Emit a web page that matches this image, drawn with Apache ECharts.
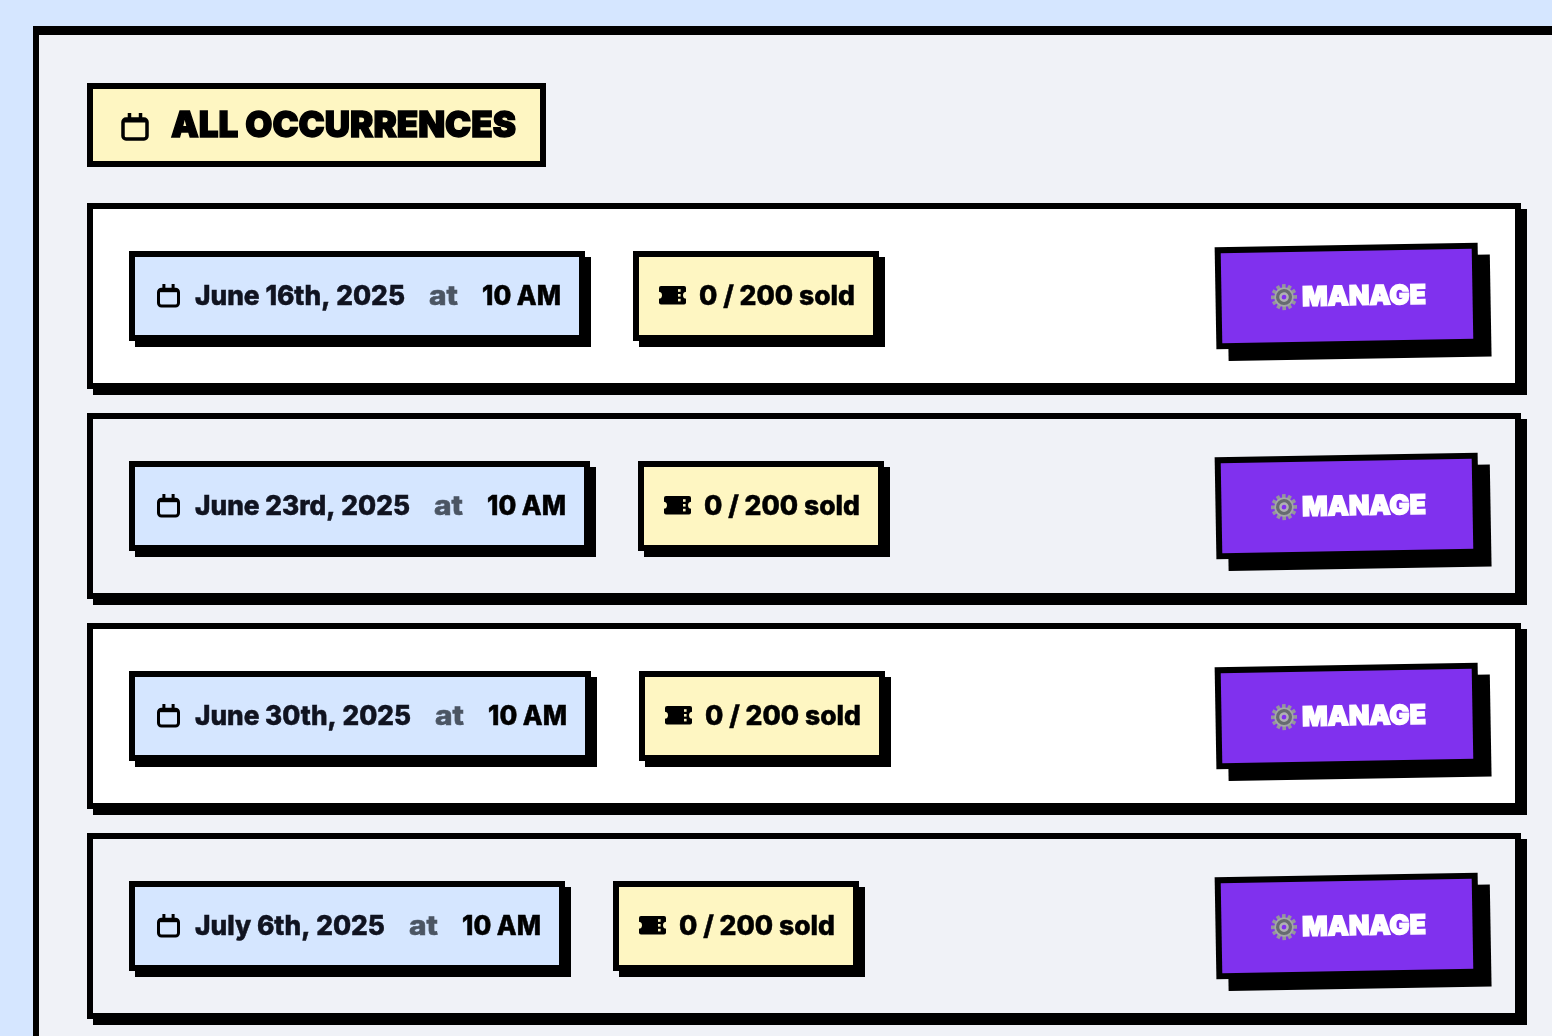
<!DOCTYPE html>
<html><head><meta charset="utf-8"><style>html,body{margin:0;padding:0;background:#d5e6ff;overflow:hidden}#c{width:1552px;height:1036px}</style>
<script src="https://cdn.jsdelivr.net/npm/echarts@6/dist/echarts.min.js"></script></head>
<body><div id="c"></div>
<script>
// content
const titleText = 'ALL OCCURRENCES';
const occurrenceDates = ['June 16th, 2025','June 23rd, 2025','June 30th, 2025','July 6th, 2025'];
const occurrenceTimes = ['10 AM','10 AM','10 AM','10 AM'];
const soldCounts = [0,0,0,0];
const capacities = [200,200,200,200];
const buttonLabel = 'MANAGE';
const joinWord = 'at';
// measured text widths from the reference
const dateWidths = [210,215,216,190];
const C = {bg:'#d5e6ff',panel:'#f0f2f7',white:'#ffffff',yellow:'#fef6c2',blue:'#d5e6ff',purple:'#8031ee',black:'#000000',ink:'#101320',grey:'#4b5563'};
const FF = 'Inter, "Noto Sans", sans-serif';
const cv = document.createElement('canvas').getContext('2d');
const els = [];
function rect(x,y,w,h,fill,extra){return Object.assign({type:'rect',shape:{x,y,width:w,height:h},style:{fill},silent:true},extra||{});}
function box(arr,x,y,w,h,bw,fill,sh){
  if(sh) arr.push(rect(x+sh,y+sh,w,h,C.black));
  arr.push(rect(x,y,w,h,C.black));
  arr.push(rect(x+bw,y+bw,w-2*bw,h-2*bw,fill));
}
function txt(arr,s,x,cy,font,fill,width,bold){
  cv.font = font;
  const sx = width ? width/cv.measureText(s).width : 1;
  arr.push({type:'text',x,y:cy,scaleX:sx,silent:true,style:{text:s,x:0,y:0,font,fill,stroke:fill,lineWidth:bold||0,textAlign:'left',textVerticalAlign:'middle'}});
}
function calendar(arr,x,y,w,h,lw){
  const top=y+h*0.2;
  arr.push({type:'rect',shape:{x:x,y:top,width:w,height:y+h-top,r:3},style:{fill:'none',stroke:C.black,lineWidth:lw},silent:true});
  arr.push({type:'line',shape:{x1:x,y1:top+lw*0.5,x2:x+w,y2:top+lw*0.5},style:{stroke:C.black,lineWidth:lw},silent:true});
  arr.push({type:'line',shape:{x1:x+w*0.27,y1:y-1,x2:x+w*0.27,y2:top},style:{stroke:C.black,lineWidth:lw},silent:true});
  arr.push({type:'line',shape:{x1:x+w*0.73,y1:y-1,x2:x+w*0.73,y2:top},style:{stroke:C.black,lineWidth:lw},silent:true});
}
function ticket(arr,x,cy){
  const y=cy-9;
  arr.push({type:'rect',silent:true,shape:{x,y,width:27,height:18.5,r:2},style:{fill:C.black}});
  arr.push({type:'circle',silent:true,shape:{cx:x-0.5,cy:cy+0.2,r:3.5},style:{fill:C.yellow}});
  arr.push({type:'circle',silent:true,shape:{cx:x+27.5,cy:cy+0.2,r:3.5},style:{fill:C.yellow}});
  [3.2,8,12.8].forEach(d=>arr.push(rect(x+19,y+d,2.6,2.6,C.yellow)));
}
function gear(arr,cx,cy){
  for(let k=0;k<12;k++){
    arr.push({type:'rect',silent:true,x:cx,y:cy,rotation:k*Math.PI/6,shape:{x:-1.8,y:-13,width:3.6,height:6},style:{fill:'#94979b'}});
  }
  [[9.8,'#a3a6a9'],[8,'#676b70'],[4.8,'#aeb0b3'],[2.4,C.purple]].forEach(p=>arr.push({type:'circle',silent:true,shape:{cx,cy,r:p[0]},style:{fill:p[1]}}));
}
// page frame
els.push(rect(0,0,1552,1036,C.bg));
els.push(rect(33,26,1540,1030,C.black));
els.push(rect(39,35,1540,1030,C.panel));
// title
box(els,87,83,459,84,6,C.yellow,0);
calendar(els,123,114,24,25,3.5);
txt(els,titleText,171,126,'900 36px '+FF,C.black,345,1.4);
// rows
occurrenceDates.forEach((d,i)=>{
  const top=203+210*i, cy=top+92, ty=cy+2;
  box(els,87,top,1434,186,6,i%2?C.panel:C.white,6);
  const dw=dateWidths[i], pillW=dw+246;
  box(els,129,top+48,pillW,90,6,C.blue,6);
  calendar(els,158.5,cy-10,20,21,3);
  txt(els,d,195,ty,'800 27px '+FF,C.ink,dw,0.5);
  txt(els,joinWord,195+dw+24,ty,'800 27px '+FF,C.grey,29,0.5);
  txt(els,occurrenceTimes[i],195+dw+77,ty,'800 27px '+FF,C.black,79,0.5);
  const sx=129+pillW+48;
  box(els,sx,top+48,246,90,6,C.yellow,6);
  ticket(els,sx+26,cy);
  txt(els,soldCounts[i]+' / '+capacities[i]+' sold',sx+66,ty,'800 27px '+FF,C.black,156,0.5);
  // manage button, tilted one degree
  const kids=[];
  box(kids,-131.5,-51,263,102,6,C.purple,12);
  gear(kids,-63,0);
  txt(kids,buttonLabel,-45,1,'900 27px '+FF,C.white,124,1.4);
  els.push({type:'group',x:1347,y:top+93,rotation:Math.PI/180*1,children:kids});
});
const chart=echarts.init(document.getElementById('c'),null,{renderer:'canvas',width:1552,height:1036});
chart.setOption({animation:false,backgroundColor:C.bg,graphic:{elements:els}});
</script></body></html>
